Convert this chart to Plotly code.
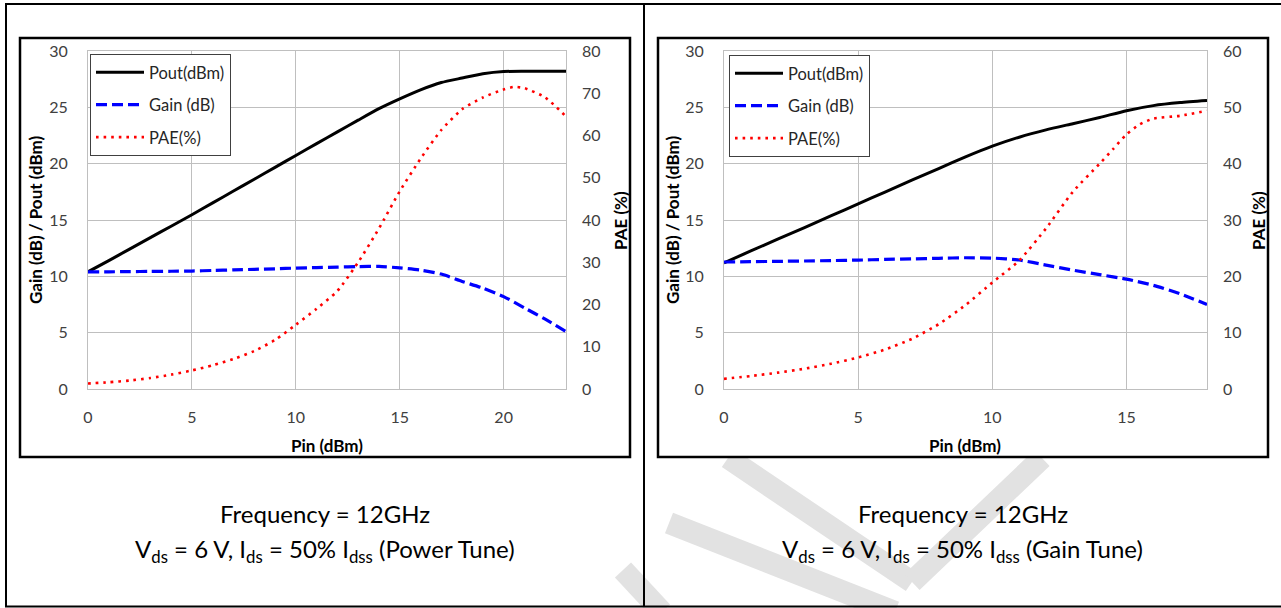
import plotly.graph_objects as go

# ---------------- data: left chart (Power Tune) ----------------
pin_L = [0, 1, 2, 3, 4, 5, 6, 7, 8, 9, 10, 11, 12, 13, 14, 15, 16, 17, 18, 19, 20, 21, 22, 23]
pout_L = [10.4, 11.4, 12.42, 13.44, 14.45, 15.47, 16.52, 17.57, 18.62, 19.67, 20.73, 21.78,
          22.82, 23.86, 24.88, 25.75, 26.55, 27.2, 27.6, 27.98, 28.18, 28.2, 28.2, 28.2]
gain_L = [10.4, 10.4, 10.42, 10.44, 10.45, 10.47, 10.52, 10.57, 10.62, 10.67, 10.73, 10.78,
          10.82, 10.86, 10.88, 10.75, 10.55, 10.2, 9.55, 8.95, 8.2, 7.2, 6.2, 5.1]
pin_pae_L = [0, 1, 2, 3, 4, 5, 6, 7, 8, 9, 10, 11, 12, 13, 14, 15, 16, 17, 18, 19, 20, 20.5, 21, 22, 23]
pae_L = [1.3, 1.6, 2.0, 2.6, 3.4, 4.4, 5.6, 7.1, 9.0, 11.6, 15.2, 19.0, 23.2, 30.0, 38.0,
         46.8, 54.5, 61.3, 66.2, 69.0, 70.9, 71.5, 71.2, 69.0, 64.5]

# ---------------- data: right chart (Gain Tune) ----------------
pin_R = [0, 1, 2, 3, 4, 5, 6, 7, 8, 9, 10, 11, 12, 13, 14, 15, 16, 17, 18]
pout_R = [11.2, 12.25, 13.3, 14.33, 15.38, 16.43, 17.48, 18.53, 19.57, 20.6, 21.55, 22.35,
          23.0, 23.55, 24.1, 24.7, 25.15, 25.42, 25.6]
gain_R = [11.27, 11.3, 11.33, 11.36, 11.4, 11.44, 11.5, 11.55, 11.6, 11.65, 11.62, 11.45,
          11.0, 10.55, 10.15, 9.75, 9.2, 8.45, 7.5]
pin_pae_R = [0, 1, 2, 3, 4, 5, 6, 7, 8, 9, 10, 11, 12, 13, 14, 14.5, 15, 15.5, 16, 17, 18]
pae_R = [1.8, 2.3, 2.9, 3.6, 4.5, 5.6, 7.0, 8.9, 11.5, 14.9, 18.9, 22.8, 28.5, 35.0, 40.0,
         42.6, 45.2, 47.0, 48.0, 48.5, 49.4]

series_names = ["Pout(dBm)", "Gain (dB)", "PAE(%)"]
x_title = "Pin (dBm)"
y_title = "Gain (dB) / Pout (dBm)"
y2_title = "PAE (%)"
caption_1 = "Frequency = 12GHz"
caption_L = "V<sub>ds</sub> = 6 V, I<sub>ds</sub> = 50% I<sub>dss</sub> (Power Tune)"
caption_R = "V<sub>ds</sub> = 6 V, I<sub>ds</sub> = 50% I<sub>dss</sub> (Gain Tune)"

W, H = 1281, 608
FONT = "Lato"


def px(x):
    return x / W


def py(y):
    return 1 - y / H


fig = go.Figure()

styles = [
    dict(color="black", width=3),
    dict(color="#0000ff", width=3.2, dash="11px,5px"),
    dict(color="#ff0000", width=2.6, dash="2.6px,5px"),
]

left = [(pin_L, pout_L, "y"), (pin_L, gain_L, "y"), (pin_pae_L, pae_L, "y2")]
right = [(pin_R, pout_R, "y3"), (pin_R, gain_R, "y3"), (pin_pae_R, pae_R, "y4")]

for i, (xs, ys, ya) in enumerate(left):
    fig.add_trace(go.Scatter(x=xs, y=ys, mode="lines", name=series_names[i], xaxis="x", yaxis=ya,
                             line=dict(shape="spline", smoothing=0.6, **styles[i]),
                             legend="legend", legendgroup="L%d" % i))
for i, (xs, ys, ya) in enumerate(right):
    fig.add_trace(go.Scatter(x=xs, y=ys, mode="lines", name=series_names[i], xaxis="x2", yaxis=ya,
                             line=dict(shape="spline", smoothing=0.6, **styles[i]),
                             legend="legend2", legendgroup="R%d" % i))

grid = "#bfbfbf"
tickfont = dict(family=FONT, size=16, color="#404040")
ydom = [py(389), py(51)]

xcommon = dict(showgrid=True, gridcolor=grid, gridwidth=1, showline=True, linecolor=grid, linewidth=1,
               mirror=True, zeroline=False, ticks="", dtick=5, tickfont=tickfont, ticklabelstandoff=14,
               fixedrange=True, automargin=False)
ycommon = dict(showgrid=True, gridcolor=grid, gridwidth=1, showline=True, linecolor=grid, linewidth=1,
               mirror=True, zeroline=False, ticks="", dtick=5, range=[0, 30], tickfont=tickfont,
               ticklabelstandoff=16, domain=ydom, fixedrange=True, automargin=False)
y2common = dict(showgrid=False, showline=False, zeroline=False, ticks="", dtick=10, side="right",
                tickfont=tickfont, ticklabelstandoff=15, fixedrange=True, automargin=False)

legcommon = dict(bordercolor="#404040", borderwidth=1, bgcolor="white", xanchor="left", yanchor="top",
                 font=dict(family=FONT, size=16.5, color="#262626"), tracegroupgap=8,
                 traceorder="grouped", itemwidth=48)

shapes = []
# watermark strokes (light gray)
wm = [((623, 570), (662, 612)), ((669, 523), (895, 612)), ((728, 458), (912, 582)),
      ((912, 582), (1042, 458))]
for (a, b) in wm:
    shapes.append(dict(type="line", xref="paper", yref="paper", x0=px(a[0]), y0=py(a[1]),
                       x1=px(b[0]), y1=py(b[1]), line=dict(color="#e2e2e2", width=22), layer="below"))
# chart boxes
for (x0, x1) in [(20, 630), (658, 1268)]:
    shapes.append(dict(type="rect", xref="paper", yref="paper", x0=px(x0), x1=px(x1), y0=py(457),
                       y1=py(38), line=dict(color="black", width=2.5), fillcolor="white", layer="below"))
# outer table frame
for (x0, y0, x1, y1) in [(5, 4, 1281, 4), (6, 4, 6, 607), (5, 606.5, 1281, 606.5), (644, 4, 644, 607)]:
    shapes.append(dict(type="line", xref="paper", yref="paper", x0=px(x0), y0=py(y0), x1=px(x1),
                       y1=py(y1), line=dict(color="black", width=2)))

ann = []
title_font = dict(family=FONT, size=17, color="black")
for cx, pcx, ttl_x, pae_x in [(327, 325, 35, 620), (965, 963, 672, 1258)]:
    ann.append(dict(text="<b>%s</b>" % x_title, x=px(cx), y=py(445), xref="paper", yref="paper",
                    showarrow=False, font=title_font, xanchor="center", yanchor="middle"))
    ann.append(dict(text="<b>%s</b>" % y_title, x=px(ttl_x), y=py(220), xref="paper", yref="paper",
                    showarrow=False, font=title_font, textangle=-90, xanchor="center", yanchor="middle"))
    ann.append(dict(text="<b>%s</b>" % y2_title, x=px(pae_x), y=py(221), xref="paper", yref="paper",
                    showarrow=False, font=title_font, textangle=-90, xanchor="center", yanchor="middle"))
    ann.append(dict(text=caption_1, x=px(pcx), y=py(513), xref="paper", yref="paper", showarrow=False,
                    font=dict(family=FONT, size=24, color="black"), xanchor="center", yanchor="middle"))
for pcx, cap in [(325, caption_L), (963, caption_R)]:
    ann.append(dict(text=cap, x=px(pcx), y=py(550), xref="paper", yref="paper", showarrow=False,
                    font=dict(family=FONT, size=24, color="black"), xanchor="center", yanchor="middle"))

fig.update_layout(
    width=W, height=H, margin=dict(l=0, r=0, t=0, b=0, pad=0, autoexpand=False),
    paper_bgcolor="white", plot_bgcolor="white",
    xaxis=dict(domain=[px(88), px(566)], range=[0, 23], anchor="y", **xcommon),
    yaxis=dict(anchor="x", **ycommon),
    yaxis2=dict(overlaying="y", anchor="x", range=[0, 80], **y2common),
    xaxis2=dict(domain=[px(724), px(1207)], range=[0, 18], anchor="y3", **xcommon),
    yaxis3=dict(anchor="x2", **ycommon),
    yaxis4=dict(overlaying="y3", anchor="x2", range=[0, 60], **y2common),
    legend=dict(x=px(90), y=py(54), **legcommon),
    legend2=dict(x=px(729), y=py(55), **legcommon),
    shapes=shapes, annotations=ann, showlegend=True,
)

fig.write_html("out.html", config={"responsive": False, "displayModeBar": False},
               post_script="document.body.style.margin='0';document.body.style.overflow='hidden';")
